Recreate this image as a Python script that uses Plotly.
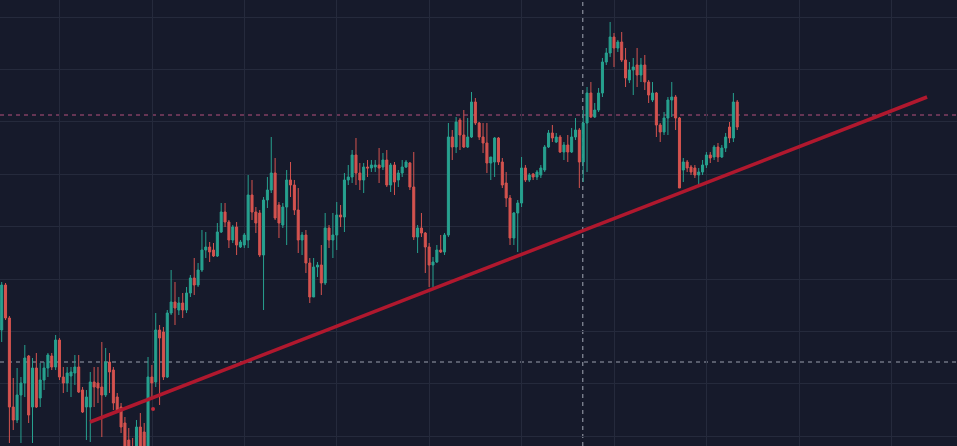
import plotly.graph_objects as go

# Candle index (time order) and OHLC prices (arbitrary price units)
idx = list(range(192))

open_ = [170,215,182,93,80,105,117,144,93,132,
         102,120,132,144,133,160,123,117,124,127,
         133,110,93,93,118,117,113,105,138,130,
         103,93,77,60,50,45,73,68,45,123,
         118,170,168,123,187,198,190,197,190,207,
         222,215,230,250,253,250,244,268,288,278,
         260,273,253,255,260,305,288,287,245,300,
         310,327,295,275,293,320,315,290,260,265,
         237,203,233,235,217,272,260,265,285,283,
         320,323,345,327,320,333,332,333,335,333,
         340,315,335,320,327,333,337,313,263,272,
         267,253,235,238,250,248,265,363,353,380,
         365,353,363,398,377,363,357,337,338,362,
         338,317,302,262,287,297,332,320,326,323,
         325,330,353,367,358,363,348,355,348,363,
         370,338,377,407,383,390,407,438,447,463,
         452,458,440,420,430,435,425,435,418,400,
         407,375,368,382,400,403,382,330,338,333,
         332,325,328,335,345,343,353,343,352,373,
         362,398]
high = [218,217,184,122,132,123,155,145,142,147,
        137,138,147,147,165,162,133,133,133,145,
        145,113,110,128,133,133,158,152,147,133,
        107,97,83,72,62,80,87,77,143,135,
        187,175,173,190,230,218,203,207,213,225,
        242,237,270,268,258,257,277,297,297,280,
        275,278,260,267,325,320,293,290,303,323,
        363,342,298,297,330,338,320,312,268,270,
        242,242,238,255,287,275,287,298,295,327,
        335,350,362,337,337,340,340,340,352,347,
        350,337,338,330,340,340,338,348,275,287,
        268,257,243,255,265,267,377,370,383,382,
        390,382,408,402,378,377,377,343,363,363,
        342,328,305,288,300,343,335,327,327,330,
        335,355,370,375,367,365,358,365,372,382,
        372,390,413,418,397,412,442,452,478,467,
        460,468,452,438,442,452,442,445,420,418,
        408,377,388,403,418,405,383,342,340,335,
        335,332,340,348,348,355,357,355,367,378,
        407,400]
low = [158,180,57,70,77,57,103,77,57,92,
       93,110,123,130,130,120,107,108,103,115,
       107,87,60,58,93,97,63,103,107,90,
       87,67,40,35,30,38,45,40,40,103,
       113,95,120,122,185,175,185,182,187,203,
       205,213,228,242,238,243,243,267,273,252,
       257,245,252,252,252,280,267,243,190,292,
       307,280,262,272,255,303,285,247,245,227,
       197,203,223,205,215,252,242,250,273,268,
       315,317,315,310,307,323,328,328,317,330,
       313,308,305,313,323,332,310,260,247,263,
       227,213,213,237,247,245,263,340,347,350,
       352,352,362,375,360,347,327,320,323,335,
       312,293,255,255,248,293,318,318,320,320,
       322,328,352,358,357,347,340,338,347,360,
       312,318,328,382,382,388,403,435,443,433,
       448,438,413,417,405,413,418,410,397,398,
       363,358,365,365,383,370,312,318,328,325,
       322,315,325,332,337,340,338,342,348,357,
       358,370]
close = [215,182,93,80,105,117,142,85,132,93,
         120,132,145,133,160,123,117,127,128,133,
         108,88,103,118,113,112,105,138,128,97,
         90,73,45,40,38,73,50,45,123,117,
         170,162,123,187,198,192,197,190,207,222,
         215,230,250,253,248,244,268,288,278,260,
         273,255,258,265,305,288,277,245,300,310,
         327,282,277,293,320,315,290,260,265,237,
         203,233,235,217,272,260,265,285,283,320,
         323,345,327,320,333,332,335,335,332,340,
         315,335,318,327,333,338,313,263,272,267,
         253,235,238,250,248,265,363,353,378,365,
         353,363,398,377,363,357,337,343,362,338,
         315,302,262,287,297,332,320,325,323,328,
         332,353,367,362,363,348,355,348,363,370,
         338,377,407,383,390,407,438,447,463,452,
         458,440,422,430,433,425,435,418,405,407,
         375,368,382,400,403,382,312,338,332,328,
         325,328,335,345,342,353,343,352,363,362,
         398,373]

# Drawn annotations (data coordinates)
trend_x = [22.93, 240.3]
trend_y = [78, 403]
level_upper = 385
level_lower = 138
crosshair_x = 150.9
signal_x = [39.3]
signal_y = [91]

BG = "#161a2b"
GRID = "#252a3c"
UP = "#27a18f"
DOWN = "#d4534f"

fig = go.Figure()
fig.add_trace(go.Candlestick(
    x=idx, open=open_, high=high, low=low, close=close,
    increasing=dict(line=dict(color=UP, width=1), fillcolor=UP),
    decreasing=dict(line=dict(color=DOWN, width=1), fillcolor=DOWN),
    whiskerwidth=0, hoverinfo="skip", showlegend=False,
))
fig.add_trace(go.Scatter(
    x=trend_x, y=trend_y, mode="lines",
    line=dict(color="#b0182e", width=3.5), hoverinfo="skip", showlegend=False,
))
fig.add_trace(go.Scatter(
    x=signal_x, y=signal_y, mode="markers",
    marker=dict(color="#c02a3a", size=4), hoverinfo="skip", showlegend=False,
))

fig.add_hline(y=level_upper, line=dict(color="#b5507e", width=1, dash="4px,4px"), layer="below")
fig.add_hline(y=level_lower, line=dict(color="#9a9fae", width=1, dash="4px,4px"), layer="below")
fig.add_vline(x=crosshair_x, line=dict(color="#a3a8b5", width=1, dash="4px,4px"), layer="below")

fig.update_layout(
    width=957, height=446,
    margin=dict(l=0, r=0, t=0, b=0),
    paper_bgcolor=BG, plot_bgcolor=BG,
    showlegend=False,
    xaxis=dict(range=[-0.44, 248.07], showticklabels=False, zeroline=False,
               showline=False, showgrid=True, gridcolor=GRID, gridwidth=1,
               tick0=15.05, dtick=24, ticks="", rangeslider=dict(visible=False)),
    yaxis=dict(range=[54, 500], showticklabels=False, zeroline=False,
               showline=False, showgrid=True, gridcolor=GRID, gridwidth=1,
               tick0=63.8, dtick=52.4, ticks=""),
    boxgap=0.25,
)

fig.write_html("out.html")
